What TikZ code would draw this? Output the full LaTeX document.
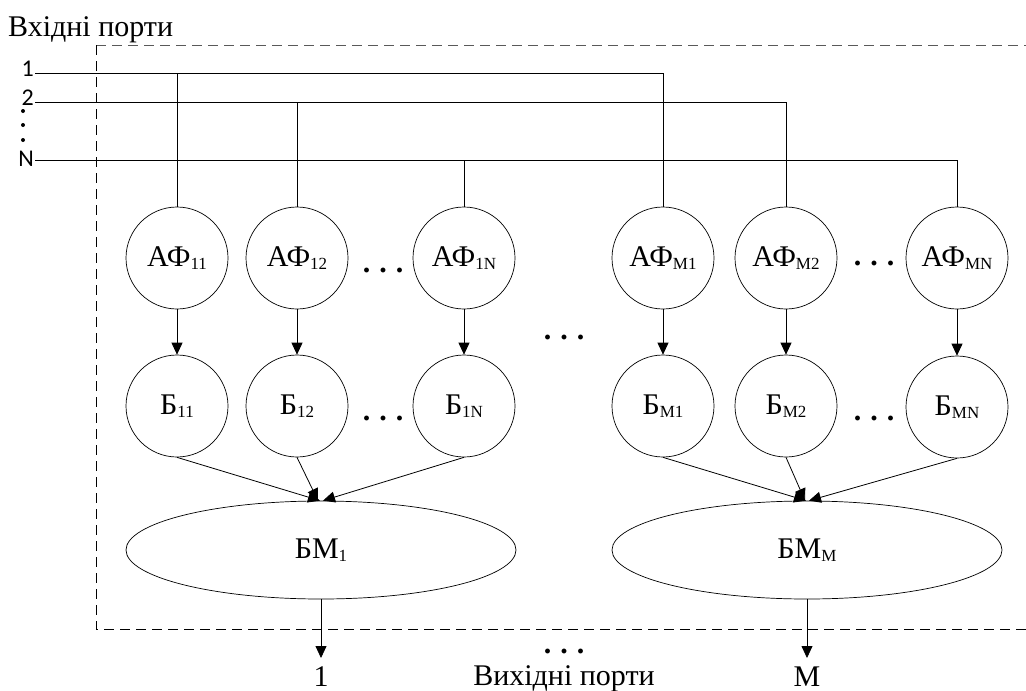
\documentclass[tikz,border=0pt]{standalone}
\usepackage{fontspec}
\setmainfont{Liberation Serif}
\newfontfamily\portfont{Carlito}
\usetikzlibrary{arrows.meta,shapes.geometric}
\newcommand{\lowsub}[1]{\raisebox{-2.5pt}{\fontsize{17}{17}\selectfont #1}}
\newcommand{\threedots}{\bfseries.\hspace{0.3em}.\hspace{0.3em}.}
\begin{document}
\begin{tikzpicture}[x=1pt,y=-1pt,
  every node/.style={font=\fontsize{30}{32}\selectfont},
  blk/.style={draw, circle, minimum size=102pt, inner sep=0pt, line width=0.7pt},
  mux/.style={draw, ellipse, minimum width=390pt, minimum height=98pt, inner sep=0pt, line width=0.7pt},
  wire/.style={line width=0.8pt},
  arr/.style={line width=0.8pt, -{Triangle[length=12pt,width=11pt]}},
  frame/.style={dash pattern=on 10pt off 6pt, line width=0.9pt},
  portlbl/.style={font=\portfont\fontsize{24}{24}\selectfont, inner sep=0pt, anchor=base east},
  dotsnode/.style={inner sep=0pt},
  title/.style={inner sep=0pt}
]
\useasboundingbox (0,0) rectangle (1026,691);

% frame
\draw[frame, black!65] (96,45) -- (1026,45);
\draw[frame] (96,45) -- (96,629) -- (1026,629);

% titles
\node[title, anchor=base west] (tin) at (8,36) {Вхідні порти};
\node[title, anchor=base] (tout) at (564,685) {Вихідні порти};

% AF row
\node[blk] (af11) at (177,258) {АФ\lowsub{11}};
\node[blk] (af12) at (297,258) {АФ\lowsub{12}};
\node[blk] (af1n) at (464,258) {АФ\lowsub{1N}};
\node[blk] (afm1) at (663,258) {АФ\lowsub{M1}};
\node[blk] (afm2) at (786,258) {АФ\lowsub{M2}};
\node[blk] (afmn) at (957,258) {АФ\lowsub{MN}};

% B row
\node[blk] (b11) at (177,406) {Б\lowsub{11}};
\node[blk] (b12) at (297,406) {Б\lowsub{12}};
\node[blk] (b1n) at (464,406) {Б\lowsub{1N}};
\node[blk] (bm1c) at (663,406) {Б\lowsub{M1}};
\node[blk] (bm2c) at (786,406) {Б\lowsub{M2}};
\node[blk] (bmnc) at (957,407) {Б\lowsub{MN}};

% multiplexers
\node[mux] (bm1) at (321,550) {БМ\lowsub{1}};
\node[mux] (bmm) at (807,550) {БМ\lowsub{M}};

% input ports
\coordinate (p1) at (35,73);
\coordinate (p2) at (35,102);
\coordinate (pn) at (35,160);
\node[portlbl] (l1) at (34,76) {1};
\node[portlbl] (l2) at (34,105) {2};
\node[portlbl] (ln) at (34,166) {N};
\fill (23,111) circle (2);
\fill (23,125) circle (2);
\fill (23,140) circle (2);

\draw[wire] (p1) -| (afm1.north);
\draw[wire] (af11.north) -- (af11.north |- p1);
\draw[wire] (p2) -| (afm2.north);
\draw[wire] (af12.north) -- (af12.north |- p2);
\draw[wire] (pn) -| (afmn.north);
\draw[wire] (af1n.north) -- (af1n.north |- pn);

% AF -> B
\foreach \a/\b in {af11/b11, af12/b12, af1n/b1n, afm1/bm1c, afm2/bm2c, afmn/bmnc}
  \draw[arr] (\a) -- (\b);

% B -> BM
\draw[arr] (b11.south) -- ([xshift=-1pt]bm1.north);
\draw[arr] (b12.south) -- ([xshift=-3pt]bm1.north);
\draw[arr] (b1n.south) -- ([xshift=2pt]bm1.north);
\draw[arr] (bm1c.south) -- ([xshift=-1pt]bmm.north);
\draw[arr] (bm2c.south) -- ([xshift=-2pt]bmm.north);
\draw[arr] (bmnc.south) -- ([xshift=2pt]bmm.north);

% outputs
\coordinate (o1) at (321,658);
\coordinate (om) at (807,658);
\draw[arr] (bm1.south) -- (o1);
\draw[arr] (bmm.south) -- (om);
\node[title, anchor=base] (out1) at (321,686) {1};
\node[title, anchor=base] (outm) at (807,686) {M};

% ellipses
\node[dotsnode] (d1) at (383,270) {\threedots};
\node[dotsnode] (d2) at (383,418) {\threedots};
\node[dotsnode] (d3) at (874,263) {\threedots};
\node[dotsnode] (d4) at (874,418) {\threedots};
\node[dotsnode] (d5) at (564,337) {\threedots};
\node[dotsnode] (d6) at (564,651) {\threedots};
\end{tikzpicture}
\end{document}
